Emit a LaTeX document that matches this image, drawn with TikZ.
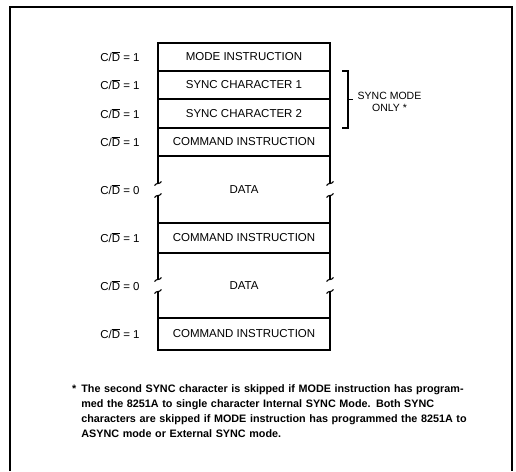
\documentclass[tikz,border=0pt]{standalone}
\usepackage{fontspec}
\setmainfont{Liberation Sans}
\usetikzlibrary{positioning}

\tikzset{every picture/.style={line width=0.75pt}}
\tikzset{
  row/.style={draw, line width=1.1pt, minimum width=172pt, minimum height=28pt,
    inner sep=0pt, outer sep=0pt, font=\fontsize{11.5}{13}\selectfont},
  datarow/.style={row, draw=none},
  cdlabel/.style={font=\fontsize{11.5}{13}\selectfont, inner sep=0pt},
  boxline/.style={line width=1.1pt},
}

\begin{document}
\begin{tikzpicture}[x=1pt,y=-1pt]
  \useasboundingbox (0,0) rectangle (516,471);
  % frame
  \draw[line width=2pt] (10,471) -- (10,7) -- (512,7) -- (512,471);

  % stack of words
  \node[row] (mode) at (244,57) {MODE INSTRUCTION};
  \node[row, below=0pt of mode] (sync1) {SYNC CHARACTER 1};
  \node[row, below=0pt of sync1, minimum height=29pt] (sync2) {SYNC CHARACTER 2};
  \node[row, below=0pt of sync2] (cmd1) {COMMAND INSTRUCTION};
  \node[datarow, below=0pt of cmd1, minimum height=67pt] (data1) {DATA};
  \node[row, below=0pt of data1, minimum height=30pt] (cmd2) {COMMAND INSTRUCTION};
  \node[datarow, below=0pt of cmd2, minimum height=65pt] (data2) {DATA};
  \node[row, below=0pt of data2, minimum height=32pt] (cmd3) {COMMAND INSTRUCTION};

  % broken sides of the data blocks
  \foreach \d in {data1,data2}
    \foreach \s in {west,east} {
      \coordinate (\d-\s-a) at ([yshift=6pt]\d.\s);
      \coordinate (\d-\s-b) at ([yshift=-6pt]\d.\s);
      \draw[boxline] (\d.north \s) -- (\d-\s-a);
      \draw[boxline] (\d-\s-b) -- (\d.south \s);
      \draw[boxline] ([shift={(-3.5pt,-2pt)}]\d-\s-a) .. controls ([shift={(-1pt,1.5pt)}]\d-\s-a) and ([shift={(1pt,-1.5pt)}]\d-\s-a) .. ([shift={(3.5pt,2pt)}]\d-\s-a);
      \draw[boxline] ([shift={(-3.5pt,-2pt)}]\d-\s-b) .. controls ([shift={(-1pt,1.5pt)}]\d-\s-b) and ([shift={(1pt,-1.5pt)}]\d-\s-b) .. ([shift={(3.5pt,2pt)}]\d-\s-b);
    }

  % C/D labels
  \foreach \r/\v in {mode/1,sync1/1,sync2/1,cmd1/1,data1/0,cmd2/1,data2/0,cmd3/1}
    \node[cdlabel, left=18pt of \r] (l\r) {C/$\overline{\mbox{D}}$ = \v};

  % bracket
  \coordinate (btop) at ([xshift=18pt]sync1.north east);
  \coordinate (bbot) at ([xshift=18pt]sync2.south east);
  \draw[boxline] ([xshift=-6pt]btop) -- (btop) -- (bbot) -- ([xshift=-6pt]bbot);
  \path (btop) -- (bbot) coordinate[midway] (bmid);
  \draw[boxline] (bmid) -- ([xshift=5pt]bmid);
  \node[font=\fontsize{10.5}{12}\selectfont, align=center, right=6pt of bmid, yshift=-2pt] (only) {SYNC MODE\\ONLY *};

  % footnote
  \node[anchor=north west, inner sep=0pt, text width=381pt,
    font=\fontsize{10.8}{15}\selectfont\bfseries] (note) at (81,384) {\noindent
    \llap{*\hspace{5pt}}\makebox[\hsize][s]{The second SYNC character is skipped if MODE instruction has program-}\\
    \makebox[\hsize][s]{med the 8251A to single character Internal SYNC Mode. Both SYNC}\\
    \makebox[\hsize][s]{characters are skipped if MODE instruction has programmed the 8251A to}\\
    ASYNC mode or External SYNC mode.};
\end{tikzpicture}
\end{document}
